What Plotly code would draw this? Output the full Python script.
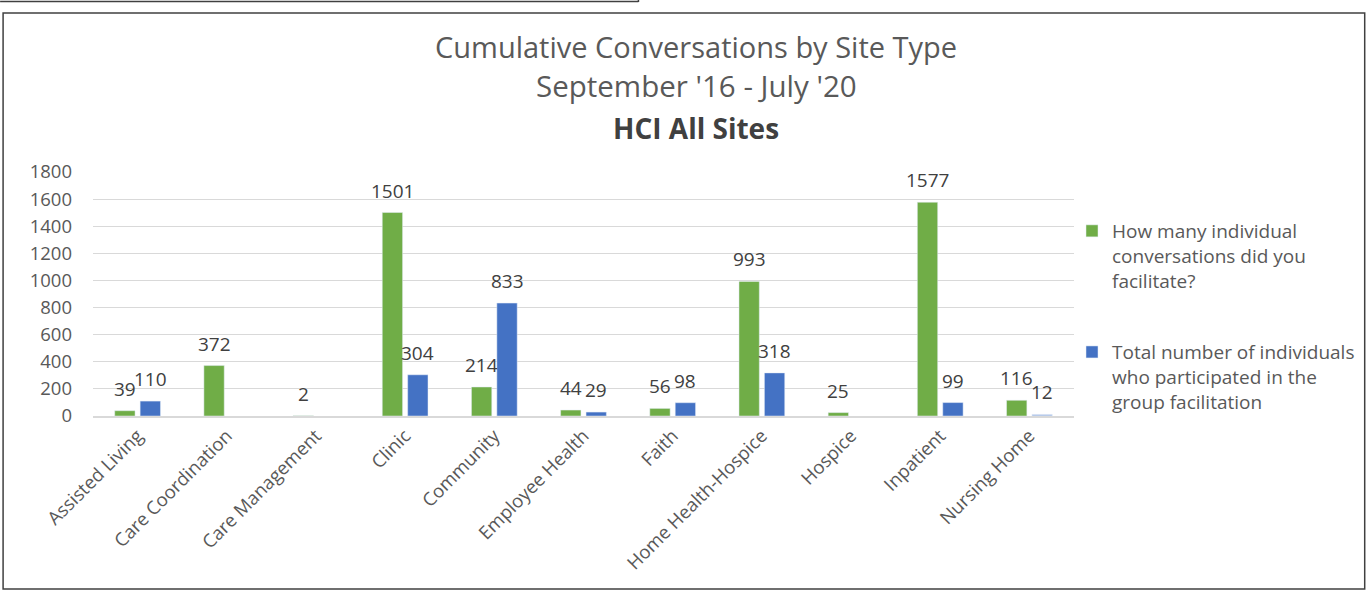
import plotly.graph_objects as go

categories = ["Assisted Living", "Care Coordination", "Care Management", "Clinic", "Community",
              "Employee Health", "Faith", "Home Health-Hospice", "Hospice", "Inpatient", "Nursing Home"]
conversations = [39, 372, 2, 1501, 214, 44, 56, 993, 25, 1577, 116]
participants = [110, None, None, 304, 833, 29, 98, 318, None, 99, 12]
series_names = ["How many individual<br>conversations did you<br>facilitate?",
                "Total number of individuals<br>who participated in the<br>group facilitation"]
y_ticks = [0, 200, 400, 600, 800, 1000, 1200, 1400, 1600, 1800]

GREEN = "#70ad47"
BLUE = "#4472c4"
LIGHT_BLUE = "#a9c0e6"
FONT = "Open Sans"
W, H = 1371, 593
L, R, T, B = 93, 1075, 172, 416  # plot area in px

def fx(px):
    return (px - L) / (R - L)

def fy(py):
    return (B - py) / (B - T)

blue_colors = [LIGHT_BLUE if c == "Nursing Home" else BLUE for c in categories]

fig = go.Figure()
fig.add_trace(go.Bar(x=categories, y=conversations, name=series_names[0],
                     marker_color=GREEN, legendgroup="a"))
fig.add_trace(go.Bar(x=categories, y=participants, name=series_names[1],
                     marker_color=blue_colors, legendgroup="b"))

LABEL_FONT = dict(family=FONT, size=19, color="#404040")
annotations = []
for c, v in zip(categories, conversations):
    if v is not None:
        annotations.append(dict(x=c, y=v, xref="x", yref="y", text=str(v), showarrow=False,
                                xshift=-12.7, yshift=22, yanchor="middle", font=LABEL_FONT))
for c, v in zip(categories, participants):
    if v is not None:
        annotations.append(dict(x=c, y=v, xref="x", yref="y", text=str(v), showarrow=False,
                                xshift=12.7, yshift=22, yanchor="middle", font=LABEL_FONT))

titles = [("Cumulative Conversations by Site Type", 46, 29, "#595959"),
          ("September '16 - July '20", 86, 29.5, "#595959"),
          ("<b>HCI All Sites</b>", 128, 28, "#404040")]
for txt, py, size, col in titles:
    annotations.append(dict(x=fx(697), y=fy(py), xref="paper", yref="paper", text=txt,
                            showarrow=False, xanchor="center", yanchor="middle",
                            font=dict(family=FONT, size=size, color=col)))

shapes = [
    dict(type="rect", xref="paper", yref="paper", x0=fx(3), x1=fx(1366), y0=fy(589), y1=fy(13),
         line=dict(color="#404040", width=1.5)),
    dict(type="line", xref="paper", yref="paper", x0=fx(0), x1=fx(639), y0=fy(1.5), y1=fy(1.5),
         line=dict(color="#404040", width=1.5)),
    dict(type="line", xref="paper", yref="paper", x0=fx(639), x1=fx(639), y0=fy(0), y1=fy(2),
         line=dict(color="#404040", width=1.5)),
]

TICK_FONT = dict(family=FONT, size=18.5, color="#595959")
fig.update_layout(
    width=W, height=H,
    margin=dict(l=L, r=W - R, t=T, b=H - B, pad=0),
    paper_bgcolor="white", plot_bgcolor="white",
    barmode="group", bargap=0.43, bargroupgap=0.2,
    font=dict(family=FONT, size=18, color="#595959"),
    annotations=annotations, shapes=shapes,
    legend=dict(x=fx(1072), y=fy(212), xanchor="left", yanchor="top",
                traceorder="grouped", tracegroupgap=44, valign="top",
                font=dict(family=FONT, size=19, color="#595959"),
                bgcolor="rgba(0,0,0,0)"),
    xaxis=dict(tickangle=-45, showgrid=False, showline=True, linecolor="#d9d9d9", linewidth=1.5,
               ticks="", tickfont=TICK_FONT),
    yaxis=dict(range=[0, 1800], tickvals=y_ticks, showgrid=True, gridcolor="#d9d9d9",
               zeroline=False, showline=False, ticks="", ticklabelstandoff=20,
               tickfont=TICK_FONT),
)

fig.write_html("out.html", config={"displayModeBar": False},
               post_script="document.body.style.margin='0';document.body.style.overflow='hidden';")
